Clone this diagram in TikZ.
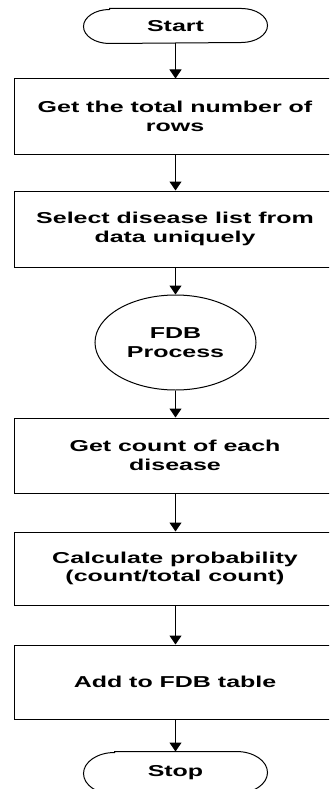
\documentclass[tikz,border=0pt]{standalone}
\usepackage{fontspec}
\setmainfont{Liberation Sans}[FakeStretch=1.58]
\usetikzlibrary{arrows.meta,shapes.geometric}
\begin{document}
\begin{tikzpicture}[x=1pt,y=-1pt,
  every node/.style={font=\fontsize{15.8}{18.5}\selectfont\bfseries, align=center, line width=1pt},
  stepbox/.style={draw, rectangle, minimum width=322pt, inner sep=0pt},
  term/.style={rectangle, minimum width=183pt, inner sep=0pt},
  termline/.style={line width=1pt},
  proc/.style={draw, ellipse, minimum width=161pt, minimum height=95pt, inner sep=0pt},
  conn/.style={line width=1pt, -{Triangle[width=12pt,length=9pt]}}]
\useasboundingbox (0,0) rectangle (329,789);
\clip (0,0) rectangle (329,789);
\fill[white] (0,0) rectangle (329,789);
\node[term, minimum height=34pt] (start) at (175.5,26) {Start};
\draw[termline] ([xshift=26pt]start.north west) -- ([xshift=-26pt]start.north east)
  arc[start angle=90, end angle=-90, x radius=26pt, y radius=17pt]
  -- ([xshift=26pt]start.south west)
  arc[start angle=270, end angle=90, x radius=26pt, y radius=17pt] -- cycle;
\node[stepbox, minimum height=75pt] (b1) at (175,116.5) {Get the total number of\\rows};
\node[stepbox, minimum height=76pt] (b2) at (175,229) {Select disease list from\\data uniquely};
\node[proc] (fdb) at (175.5,342.5) {FDB\\Process};
\node[stepbox, minimum height=75pt] (b3) at (175,455.5) {Get count of each\\disease};
\node[stepbox, minimum height=73pt] (b4) at (175,568.5) {Calculate probability\\(count/total count)};
\node[stepbox, minimum height=74pt] (b5) at (175,682) {Add to FDB table};
\node[term, minimum height=42pt] (stop) at (175.5,773) {Stop};
\draw[termline] ([xshift=31pt]stop.north west) -- ([xshift=-31pt]stop.north east)
  arc[start angle=90, end angle=-90, x radius=31pt, y radius=21pt]
  -- ([xshift=31pt]stop.south west)
  arc[start angle=270, end angle=90, x radius=31pt, y radius=21pt] -- cycle;
\draw[conn] (start.south) -- (b1.north -| start.south);
\draw[conn] (b1.south -| start.south) -- (b2.north -| start.south);
\draw[conn] (b2.south -| start.south) -- (fdb.north);
\draw[conn] (fdb.south) -- (b3.north -| fdb.south);
\draw[conn] (b3.south -| fdb.south) -- (b4.north -| fdb.south);
\draw[conn] (b4.south -| fdb.south) -- (b5.north -| fdb.south);
\draw[conn] (b5.south -| stop.north) -- (stop.north);
\end{tikzpicture}
\end{document}
